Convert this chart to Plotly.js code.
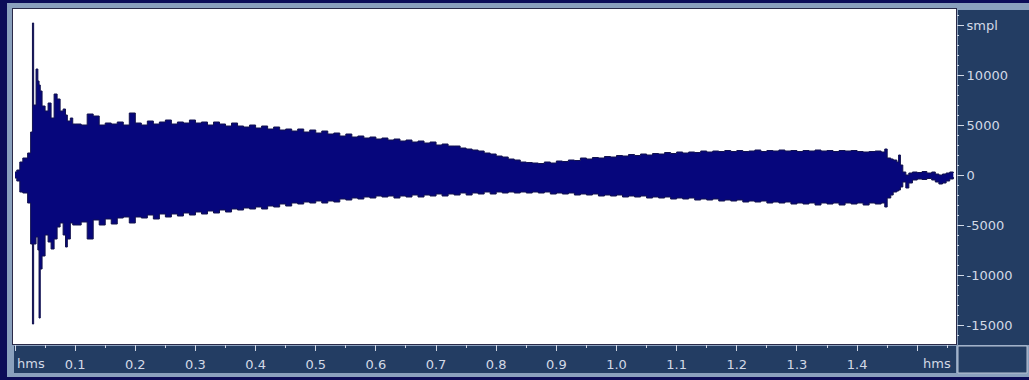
<!DOCTYPE html>
<html>
<head>
<meta charset="utf-8">
<script src="https://cdn.plot.ly/plotly-3.0.1.min.js"></script>
<style>
  html, body { margin: 0; padding: 0; background: #0c0c58; }
  #chart { width: 1029px; height: 380px; }
</style>
</head>
<body>
<div id="chart"></div>
<script>
// Time (seconds) of each envelope reading
const timeSec = [
  0.000, 0.003, 0.008, 0.013, 0.021, 0.026, 0.029, 0.031, 0.035, 0.038,
  0.040, 0.042, 0.045, 0.050, 0.055, 0.060, 0.065, 0.070, 0.075, 0.080,
  0.084, 0.087, 0.092, 0.096,
  0.10, 0.11, 0.12, 0.13, 0.14, 0.15, 0.16, 0.17, 0.18, 0.19,
  0.20, 0.21, 0.22, 0.23, 0.24, 0.25, 0.26, 0.27, 0.28, 0.29,
  0.30, 0.31, 0.32, 0.33, 0.34, 0.35, 0.36, 0.37, 0.38, 0.39,
  0.40, 0.41, 0.42, 0.43, 0.44, 0.45, 0.46, 0.47, 0.48, 0.49,
  0.50, 0.51, 0.52, 0.53, 0.54, 0.55, 0.56, 0.57, 0.58, 0.59,
  0.60, 0.61, 0.62, 0.63, 0.64, 0.65, 0.66, 0.67, 0.68, 0.69,
  0.70, 0.71, 0.72, 0.73, 0.74, 0.75, 0.76, 0.77, 0.78, 0.79,
  0.80, 0.81, 0.82, 0.83, 0.84, 0.85, 0.86, 0.87, 0.88, 0.89,
  0.90, 0.91, 0.92, 0.93, 0.94, 0.95, 0.96, 0.97, 0.98, 0.99,
  1.00, 1.01, 1.02, 1.03, 1.04, 1.05, 1.06, 1.07, 1.08, 1.09,
  1.10, 1.11, 1.12, 1.13, 1.14, 1.15, 1.16, 1.17, 1.18, 1.19,
  1.20, 1.21, 1.22, 1.23, 1.24, 1.25, 1.26, 1.27, 1.28, 1.29,
  1.30, 1.31, 1.32, 1.33, 1.34, 1.35, 1.36, 1.37, 1.38, 1.39,
  1.40, 1.41, 1.42, 1.43, 1.44,
  1.446, 1.450, 1.456, 1.460, 1.466, 1.469, 1.472, 1.476, 1.481, 1.486,
  1.492, 1.500, 1.508, 1.516, 1.524, 1.530, 1.536, 1.542, 1.548, 1.554,
  1.560
];

// Upper (positive) envelope of the waveform, in samples
const upperEnv = [
  300, 500, 1300, 1700, 2200, 4300, 15200, 7000, 10600, 9400,
  9000, 8400, 6900, 6400, 7200, 5700, 8100, 7600, 6400, 6600,
  6000, 5400, 5700, 5100,
  5100, 5000, 6100, 5900, 5000, 5200, 5100, 5300, 5000, 6200,
  5200, 5000, 5400, 5100, 5300, 5500, 5100, 5300, 5200, 5500,
  5200, 5300, 5000, 5300, 5100, 4900, 5200, 4900, 4800, 5000,
  4700, 4900, 4600, 4800, 4500, 4600, 4400, 4600, 4300, 4500,
  4200, 4400, 4100, 4200, 3900, 4100, 3800, 3900, 3700, 3800,
  3600, 3700, 3500, 3600, 3400, 3500, 3300, 3400, 3200, 3300,
  3000, 3100, 2900, 2900, 2700, 2600, 2500, 2400, 2200, 2100,
  1900, 1800, 1600, 1500, 1300, 1250, 1200, 1150, 1300, 1200,
  1400, 1350, 1500, 1450, 1700, 1600, 1750, 1700, 1850, 1800,
  1950, 1900, 2050, 1950, 2100, 2000, 2150, 2100, 2250, 2150,
  2300, 2200, 2300, 2250, 2400, 2300, 2400, 2350, 2450, 2350,
  2450, 2350, 2400, 2500, 2350, 2450, 2400, 2500, 2400, 2450,
  2350, 2450, 2400, 2500, 2400, 2450, 2350, 2450, 2400, 2450,
  2350, 2300, 2350, 2400, 2300,
  2600, 1700, 1600, 1500, 1300, 2000, 1000, 300, 0, 200,
  300, 250, 350, 200, 300, 100, 0, 100, 200, 300,
  200
];

// Lower (negative) envelope of the waveform, in samples
const lowerEnv = [
  -300, -600, -1700, -1800, -2800, -6900, -14900, -6900, -6200, -7500,
  -14300, -9400, -8100, -6000, -6700, -7400, -6400, -5200, -4800, -6000,
  -7200, -6400, -4800, -5000,
  -5000, -4700, -6400, -4500, -5000, -4400, -4900, -4300, -4200, -4800,
  -4200, -4300, -4000, -4400, -3900, -4200, -3900, -4100, -3800, -4000,
  -3700, -3900, -3600, -3800, -3500, -3700, -3400, -3500, -3300, -3400,
  -3200, -3400, -3100, -3200, -2900, -3100, -2800, -2900, -2700, -2800,
  -2600, -2800, -2600, -2700, -2400, -2500, -2300, -2400, -2200, -2300,
  -2100, -2200, -2100, -2300, -2100, -2200, -2000, -2200, -2000, -2100,
  -1900, -2100, -1900, -2000, -1800, -2000, -1800, -1900, -1700, -1900,
  -1700, -1800, -1700, -1800, -1700, -1800, -1700, -1800, -1700, -1900,
  -1800, -1900, -1800, -2000, -1900, -2000, -1900, -2100, -2000, -2100,
  -2000, -2200, -2100, -2200, -2100, -2300, -2200, -2300, -2200, -2400,
  -2300, -2400, -2300, -2500, -2400, -2500, -2400, -2600, -2500, -2600,
  -2500, -2700, -2600, -2700, -2600, -2800, -2700, -2800, -2700, -2900,
  -2800, -2900, -2800, -3000, -2800, -2900, -2800, -3000, -2800, -2900,
  -2800, -3000, -2800, -2900, -2800,
  -3200, -2300, -2000, -1700, -1600, -1500, -1200, -700, -1300, -800,
  -500, -400, -450, -350, -500, -700, -900, -800, -600, -400,
  -200
];

// Axis ticks and labels
const yTickVals = [15000, 10000, 5000, 0, -5000, -10000, -15000];
const yTickText = ['smpl', '10000', '5000', '0', '-5000', '-10000', '-15000'];
const xTickVals = [0, 0.1, 0.2, 0.3, 0.4, 0.5, 0.6, 0.7, 0.8, 0.9, 1.0, 1.1, 1.2, 1.3, 1.4, 1.5];
const xTickText = ['', '0.1', '0.2', '0.3', '0.4', '0.5', '0.6', '0.7', '0.8', '0.9', '1.0', '1.1', '1.2', '1.3', '1.4', ''];
const xUnitLabel = 'hms';

// ---- layout geometry (pixels) ----
const W = 1029, H = 380;
const PL = 14, PR = 956, PT = 10, PB = 344;
const pw = PR - PL, ph = PB - PT;
const px = v => (v - PL) / pw;
const py = v => (PB - v) / ph;

const frameCol = '#8aa0bd';
const panelCol = '#233d63';
const textCol = '#d2d9e6';
const font = {family: 'DejaVu Sans, Verdana, sans-serif', size: 13, color: textCol};

function rect(x0, y0, x1, y1, fill, lineCol, lw) {
  return {type: 'rect', xref: 'paper', yref: 'paper', layer: 'below',
    x0: px(x0), x1: px(x1), y0: py(y1), y1: py(y0),
    fillcolor: fill, line: {color: lineCol || fill, width: lw || 0}};
}

const shapes = [
  rect(7, 3, 1029, 377, frameCol),
  rect(12, 8, 957, 345, '#2a2a48'),
  rect(13, 9, 956, 344, '#ffffff'),
  rect(958, 10, 1029, 345, panelCol),
  rect(14, 346, 956, 373, panelCol),
  rect(958, 346, 1027, 373, panelCol, '#b8c4d6', 1)
];

const traces = [
  {x: timeSec, y: lowerEnv, type: 'scatter', mode: 'lines',
   line: {shape: 'hv', color: '#12124e', width: 1}, hoverinfo: 'skip', showlegend: false},
  {x: timeSec, y: upperEnv, type: 'scatter', mode: 'lines', fill: 'tonexty',
   fillcolor: '#06067c',
   line: {shape: 'hv', color: '#12124e', width: 1}, hoverinfo: 'skip', showlegend: false}
];

const layout = {
  width: W, height: H,
  margin: {l: PL, r: W - PR, t: PT, b: H - PB, pad: 0},
  paper_bgcolor: '#0c0c58',
  plot_bgcolor: '#ffffff',
  showlegend: false,
  xaxis: {
    range: [(PL - 15) / 601.5, (PR - 15) / 601.5],
    showgrid: false, zeroline: false, showline: false,
    tickmode: 'array', tickvals: xTickVals, ticktext: xTickText,
    ticks: 'outside', ticklen: 6, tickwidth: 1, tickcolor: textCol,
    tickfont: font, ticklabelstandoff: 2,
    minor: {dtick: 0.05, tick0: 0, ticks: 'outside', ticklen: 3, tickcolor: textCol, showgrid: false},
    fixedrange: true
  },
  yaxis: {
    side: 'right',
    range: [-16900, 16500],
    showgrid: false, zeroline: false, showline: false,
    tickmode: 'array', tickvals: yTickVals, ticktext: yTickText,
    ticks: 'outside', ticklen: 7, tickwidth: 1, tickcolor: textCol,
    tickfont: font,
    minor: {dtick: 1000, tick0: 0, ticks: 'outside', ticklen: 2, tickcolor: textCol, showgrid: false},
    fixedrange: true
  },
  shapes: shapes,
  annotations: [
    {xref: 'paper', yref: 'paper', x: px(15), y: py(363), xanchor: 'left', yanchor: 'middle',
     text: xUnitLabel, showarrow: false, font: font},
    {xref: 'paper', yref: 'paper', x: px(953), y: py(363), xanchor: 'right', yanchor: 'middle',
     text: xUnitLabel, showarrow: false, font: font}
  ]
};

Plotly.newPlot('chart', traces, layout, {displayModeBar: false, staticPlot: true});
</script>
</body>
</html>
